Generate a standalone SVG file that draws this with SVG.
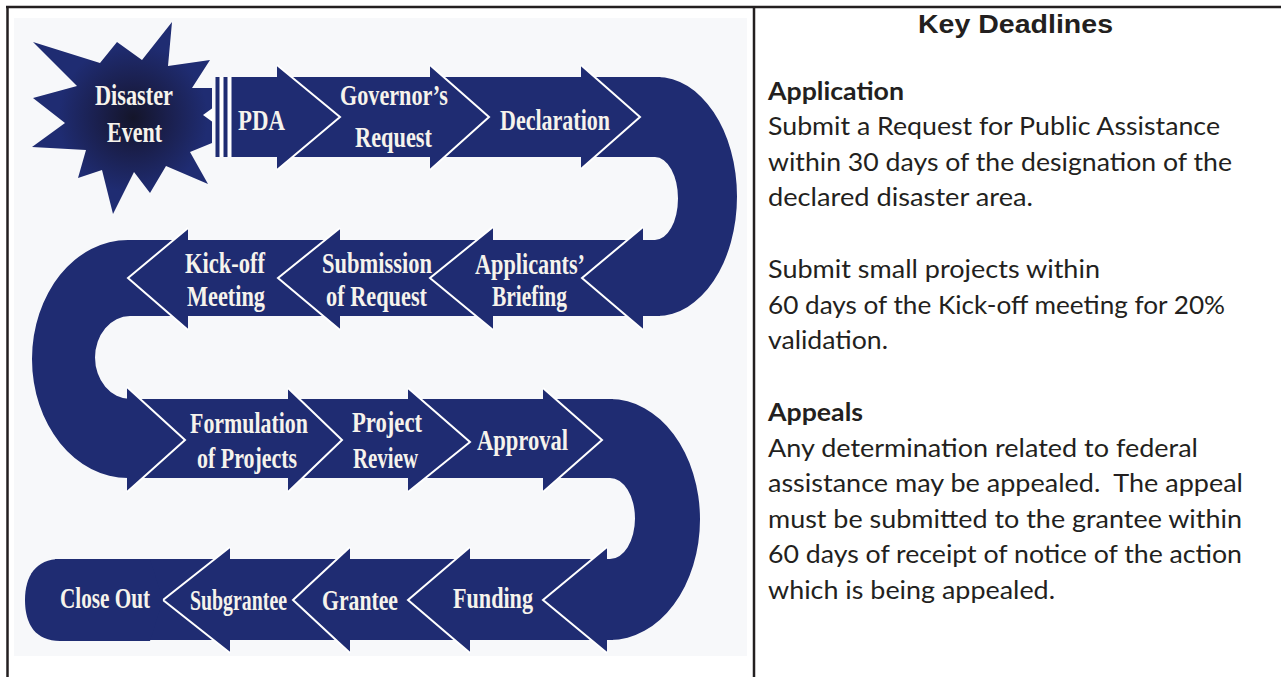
<svg xmlns="http://www.w3.org/2000/svg" width="1281" height="677" viewBox="0 0 1281 677">
  <defs>
    <radialGradient id="burstCore" gradientUnits="userSpaceOnUse" cx="133" cy="118" r="75">
      <stop offset="0" stop-color="#14152a"/>
      <stop offset="0.45" stop-color="#1a1f4c"/>
      <stop offset="1" stop-color="#1f2c72"/>
    </radialGradient>
    <style>
      .frame { stroke: #231f20; stroke-width: 2.5; fill: none; }
      .band { fill: #1f2c72; }
      .head { fill: #1f2c72; }
      .edge { fill: none; stroke: #ffffff; stroke-width: 2; stroke-linejoin: miter; }
      .lbl { font-family: "Liberation Serif", "Times New Roman", serif; font-weight: bold; font-size: 29px; fill: #f6f3ec; }
      .title { font-family: "Liberation Sans", Arial, sans-serif; font-weight: bold; font-size: 26px; fill: #231f20; }
      .body { font-family: Lato, "Open Sans", sans-serif; font-size: 25px; fill: #231f20; white-space: pre; }
      .bold { font-weight: bold; }
    </style>
  </defs>

  <!-- page -->
  <rect x="0" y="0" width="1281" height="677" fill="#ffffff"/>
  <line class="frame" x1="6" y1="7" x2="1281" y2="7"/>
  <line class="frame" x1="7.5" y1="6" x2="7.5" y2="677"/>
  <line class="frame" x1="754" y1="6" x2="754" y2="677"/>

  <!-- artwork background -->
  <rect x="14" y="18" width="733" height="638" fill="#f7f8fa"/>

  <!-- straight track bands -->
  <g id="track">
    <rect class="band" x="215.5" y="77" width="445" height="80"/>
    <rect x="219.5" y="77" width="4" height="80" fill="#ffffff"/>
    <rect x="227.5" y="77" width="4" height="80" fill="#ffffff"/>
    <rect class="band" x="135" y="240" width="525" height="76"/>
    <rect class="band" x="135" y="399" width="478" height="79"/>
    <rect class="band" x="55" y="559" width="558" height="81"/>
  </g>

  <!-- U-turn connectors between the rows -->
  <g id="connectors">
    <path class="band" d="M600,77 H657 A80 119.5 0 0 1 657,316 H600 V240 H655 A23 41.5 0 0 0 655,157 H600 Z"/>
    <path class="band" d="M140,240 H128 A96 119 0 0 0 128,478 H140 V399 H130 A35 41.5 0 0 1 130,316 H140 Z"/>
    <path class="band" d="M560,399 H610 A90 120.5 0 0 1 610,640 H560 V559 H610 A25 40.5 0 0 0 610,478 H560 Z"/>
    <!-- arrow tips ending each U-turn -->
    <polygon class="head" points="643,227 582,278 643,330"/>
    <polyline class="edge" points="643,227 582,278 643,330"/>
    <polygon class="head" points="127,387 185,440 127,492"/>
    <polyline class="edge" points="127,387 185,440 127,492"/>
    <polygon class="head" points="607,547 543,600 607,653"/>
    <polyline class="edge" points="607,547 543,600 607,653"/>
  </g>

  <!-- start burst -->
  <g id="disaster-event">
    <polygon fill="url(#burstCore)" points="172,22 168,66 210,60 192,88 212,88 212,143 190,152 208,184 166,166 150,193 134,172 113,214 102,170 78,178 86,150 32,147 65,123 33,98 77,86 33,42 100,63 117,42 142,60"/>
    <polygon points="203,115 214,107 214,123" fill="#ffffff"/>
    <text class="lbl" x="95" y="105" textLength="78" lengthAdjust="spacingAndGlyphs">Disaster</text>
    <text class="lbl" x="107" y="142" textLength="55" lengthAdjust="spacingAndGlyphs">Event</text>
  </g>

  <!-- row 1 -->
  <g id="pda">
    <polygon class="head" points="277,65 340,117 277,170"/>
    <polyline class="edge" points="277,65 340,117 277,170"/>
    <text class="lbl" x="238" y="130" textLength="47" lengthAdjust="spacingAndGlyphs">PDA</text>
  </g>
  <g id="governors-request">
    <polygon class="head" points="430,65 489,117 430,170"/>
    <polyline class="edge" points="430,65 489,117 430,170"/>
    <text class="lbl" x="340" y="105" textLength="108" lengthAdjust="spacingAndGlyphs">Governor’s</text>
    <text class="lbl" x="355" y="147" textLength="77" lengthAdjust="spacingAndGlyphs">Request</text>
  </g>
  <g id="declaration">
    <polygon class="head" points="581,65 640,117 581,169"/>
    <polyline class="edge" points="581,65 640,117 581,169"/>
    <text class="lbl" x="500" y="130" textLength="110" lengthAdjust="spacingAndGlyphs">Declaration</text>
  </g>

  <!-- row 2 -->
  <g id="applicants-briefing">
    <polygon class="head" points="493,227 430,278 493,330"/>
    <polyline class="edge" points="493,227 430,278 493,330"/>
    <text class="lbl" x="475" y="274" textLength="110" lengthAdjust="spacingAndGlyphs">Applicants’</text>
    <text class="lbl" x="492" y="306" textLength="75" lengthAdjust="spacingAndGlyphs">Briefing</text>
  </g>
  <g id="submission-of-request">
    <polygon class="head" points="340,228 278,278 340,330"/>
    <polyline class="edge" points="340,228 278,278 340,330"/>
    <text class="lbl" x="322" y="273" textLength="110" lengthAdjust="spacingAndGlyphs">Submission</text>
    <text class="lbl" x="326" y="306" textLength="101" lengthAdjust="spacingAndGlyphs">of Request</text>
  </g>
  <g id="kick-off-meeting">
    <polygon class="head" points="188,228 128,278 188,330"/>
    <polyline class="edge" points="188,228 128,278 188,330"/>
    <text class="lbl" x="185" y="273" textLength="80" lengthAdjust="spacingAndGlyphs">Kick-off</text>
    <text class="lbl" x="187" y="306" textLength="78" lengthAdjust="spacingAndGlyphs">Meeting</text>
  </g>

  <!-- row 3 -->
  <g id="formulation-of-projects">
    <polygon class="head" points="288,388 342,440 288,492"/>
    <polyline class="edge" points="288,388 342,440 288,492"/>
    <text class="lbl" x="190" y="433" textLength="118" lengthAdjust="spacingAndGlyphs">Formulation</text>
    <text class="lbl" x="197" y="468" textLength="100" lengthAdjust="spacingAndGlyphs">of Projects</text>
  </g>
  <g id="project-review">
    <polygon class="head" points="408,388 470,442 408,492"/>
    <polyline class="edge" points="408,388 470,442 408,492"/>
    <text class="lbl" x="352" y="432" textLength="70" lengthAdjust="spacingAndGlyphs">Project</text>
    <text class="lbl" x="353" y="468" textLength="65" lengthAdjust="spacingAndGlyphs">Review</text>
  </g>
  <g id="approval">
    <polygon class="head" points="543,388 602,440 543,492"/>
    <polyline class="edge" points="543,388 602,440 543,492"/>
    <text class="lbl" x="477" y="450" textLength="91" lengthAdjust="spacingAndGlyphs">Approval</text>
  </g>

  <!-- row 4 -->
  <g id="funding">
    <polygon class="head" points="470,547 408,600 470,653"/>
    <polyline class="edge" points="470,547 408,600 470,653"/>
    <text class="lbl" x="453" y="608" textLength="80" lengthAdjust="spacingAndGlyphs">Funding</text>
  </g>
  <g id="grantee">
    <polygon class="head" points="350,547 293,600 350,653"/>
    <polyline class="edge" points="350,547 293,600 350,653"/>
    <text class="lbl" x="322" y="610" textLength="76" lengthAdjust="spacingAndGlyphs">Grantee</text>
  </g>
  <g id="subgrantee">
    <polygon class="head" points="230,547 163,600 230,653"/>
    <polyline class="edge" points="230,547 163,600 230,653"/>
    <text class="lbl" x="190" y="610" textLength="97" lengthAdjust="spacingAndGlyphs">Subgrantee</text>
  </g>
  <g id="close-out">
    <path class="band" d="M150,559 H60 C36,559 25,576 25,600 C25,625 36,641 60,641 H150 L163,600 Z"/>
    <text class="lbl" x="60" y="608" textLength="90" lengthAdjust="spacingAndGlyphs">Close Out</text>
  </g>

  <!-- deadlines panel -->
  <g id="key-deadlines">
    <text class="title" x="918" y="33" textLength="195" lengthAdjust="spacingAndGlyphs">Key Deadlines</text>
    <text class="body bold" x="768" y="100" textLength="136" lengthAdjust="spacingAndGlyphs">Application</text>
    <text class="body" x="768" y="135" textLength="452" lengthAdjust="spacingAndGlyphs">Submit a Request for Public Assistance</text>
    <text class="body" x="768" y="171" textLength="464" lengthAdjust="spacingAndGlyphs">within 30 days of the designation of the</text>
    <text class="body" x="768" y="206" textLength="265" lengthAdjust="spacingAndGlyphs">declared disaster area.</text>
    <text class="body" x="768" y="278" textLength="332" lengthAdjust="spacingAndGlyphs">Submit small projects within</text>
    <text class="body" x="768" y="314" textLength="457" lengthAdjust="spacingAndGlyphs">60 days of the Kick-off meeting for 20%</text>
    <text class="body" x="768" y="349" textLength="120" lengthAdjust="spacingAndGlyphs">validation.</text>
    <text class="body bold" x="768" y="421" textLength="95" lengthAdjust="spacingAndGlyphs">Appeals</text>
    <text class="body" x="768" y="457" textLength="430" lengthAdjust="spacingAndGlyphs">Any determination related to federal</text>
    <text class="body" x="768" y="492" textLength="475" lengthAdjust="spacingAndGlyphs">assistance may be appealed.  The appeal</text>
    <text class="body" x="768" y="528" textLength="474" lengthAdjust="spacingAndGlyphs">must be submitted to the grantee within</text>
    <text class="body" x="768" y="563" textLength="474" lengthAdjust="spacingAndGlyphs">60 days of receipt of notice of the action</text>
    <text class="body" x="768" y="599" textLength="287" lengthAdjust="spacingAndGlyphs">which is being appealed.</text>
  </g>
</svg>
